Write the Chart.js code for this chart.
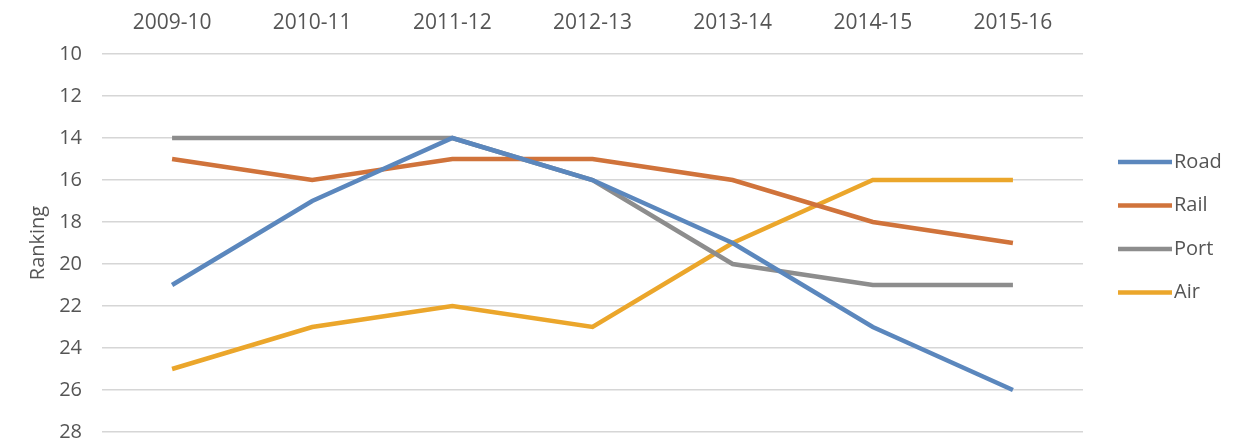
<!DOCTYPE html>
<html>
<head>
<meta charset="utf-8">
<title>Infrastructure ranking</title>
<script src="https://cdn.jsdelivr.net/npm/chart.js@4/dist/chart.umd.min.js"></script>
<style>
  html, body { margin: 0; padding: 0; background: #fff; }
  #wrap { width: 1245px; height: 440px; position: relative; }
  canvas { display: block; }
</style>
</head>
<body>
<div id="wrap"><canvas id="chart"></canvas></div>
<script>
/* Ranking by mode, 2009-10 to 2015-16 (lower number = better, so y runs downward) */

const YEARS = ["2009-10", "2010-11", "2011-12", "2012-13", "2013-14", "2014-15", "2015-16"];

const ROAD = [21, 17, 14, 16, 19, 23, 26];
const RAIL = [15, 16, 15, 15, 16, 18, 19];
const PORT = [14, 14, 14, 16, 20, 21, 21];
const AIR  = [25, 23, 22, 23, 19, 16, 16];

const FONT  = "'Open Sans', sans-serif";
const TEXT  = "#555555";
const GRID  = "#d6d6d6";

const series = (label, data, color) => ({
  label,
  data,
  borderColor: color,
  backgroundColor: color,
  borderWidth: 4.5,
  pointRadius: 0,
  tension: 0,
  fill: false,
});

/* ── legend drawn at the right, short thick line + label ── */
const sideLegend = {
  id: "sideLegend",
  afterDraw(chart) {
    const ctx = chart.ctx;
    const x0 = 1118, len = 54, top = 162, step = 43.5;
    ctx.save();
    ctx.font = "20px " + FONT;
    ctx.textBaseline = "middle";
    ctx.textAlign = "left";
    chart.data.datasets.forEach((ds, i) => {
      const y = top + i * step;
      ctx.strokeStyle = ds.borderColor;
      ctx.lineWidth = 4.5;
      ctx.beginPath();
      ctx.moveTo(x0, y);
      ctx.lineTo(x0 + len, y);
      ctx.stroke();
      ctx.fillStyle = TEXT;
      ctx.fillText(ds.label, x0 + len + 2, y);
    });
    ctx.restore();
  },
};

new Chart(document.getElementById("chart"), {
  type: "line",
  data: {
    labels: YEARS,
    datasets: [
      series("Road", ROAD, "#5b87bd"),
      series("Rail", RAIL, "#d0733b"),
      series("Port", PORT, "#8d8d8d"),
      series("Air",  AIR,  "#eba62b"),
    ],
  },
  options: {
    responsive: true,
    maintainAspectRatio: false,
    animation: false,
    layout: { padding: { left: 0, right: 162, top: 0, bottom: 8 } },
    plugins: { legend: { display: false }, tooltip: { enabled: false } },
    scales: {
      x: {
        position: "top",
        offset: true,
        grid: { display: false, drawTicks: false },
        border: { display: false },
        ticks: { color: TEXT, font: { family: FONT, size: 21 }, padding: 18, maxRotation: 0 },
        afterFit: s => { s.height = 54; },
      },
      y: {
        reverse: true,
        min: 10,
        max: 28,
        grid: { color: GRID, lineWidth: 1.5, drawTicks: false },
        border: { display: false },
        ticks: { stepSize: 2, color: TEXT, font: { family: FONT, size: 20 }, padding: 20 },
        title: { display: true, text: "Ranking", color: TEXT, font: { family: FONT, size: 20 }, padding: { top: 26, bottom: 0 } },
        afterFit: s => { s.width = 102; s.paddingTop = 0; s.paddingBottom = 0; },
      },
    },
  },
  plugins: [sideLegend],
});
</script>
</body>
</html>
